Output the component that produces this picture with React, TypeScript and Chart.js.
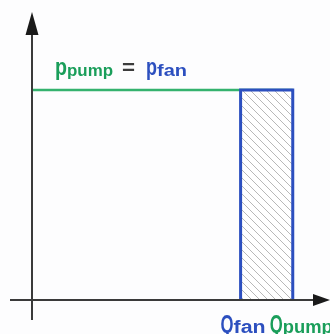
import React, { useEffect, useRef } from "react";
import { Chart, registerables } from "chart.js";

Chart.register(...registerables);

// Values (normalised units)
const pressureLabel = ["p", "pump", "=", "p", "fan"];
const flowLabels = ["Q", "fan", "Q", "pump"];
const pressure = [0.7]; // common operating pressure p_pump = p_fan
const flows = [0.7, 0.875]; // Q_fan, Q_pump
const axisRange = [0, 1];

const GREEN_TEXT = "#1a9e5a";
const GREEN_LINE = "#34b26e";
const BLUE = "#2c4fbf";
const AXIS = "#3a3a3a";

function makeHatch(): CanvasPattern | string {
  const c = document.createElement("canvas");
  const s = 8;
  c.width = s;
  c.height = s;
  const g = c.getContext("2d");
  if (!g) return "#ddd";
  g.fillStyle = "#ffffff";
  g.fillRect(0, 0, s, s);
  g.strokeStyle = "#b8b8b8";
  g.lineWidth = 1;
  g.beginPath();
  g.moveTo(0, 0);
  g.lineTo(s, s);
  g.moveTo(-1, s - 1);
  g.lineTo(1, s + 1);
  g.moveTo(s - 1, -1);
  g.lineTo(s + 1, 1);
  g.stroke();
  const p = g.createPattern(c, "repeat");
  return p || "#ddd";
}

function drawFit(
  ctx: CanvasRenderingContext2D,
  text: string,
  x: number,
  baseline: number,
  width: number,
  font: string,
  color: string
) {
  ctx.save();
  ctx.font = font;
  ctx.fillStyle = color;
  ctx.textBaseline = "alphabetic";
  ctx.textAlign = "left";
  const w = ctx.measureText(text).width || 1;
  ctx.translate(x, baseline);
  ctx.scale(width / w, 1);
  ctx.fillText(text, 0, 0);
  ctx.restore();
}

const axesPlugin = {
  id: "arrowAxes",
  afterDatasetsDraw(chart: any) {
    const ctx: CanvasRenderingContext2D = chart.ctx;
    const xs = chart.scales.x;
    const ys = chart.scales.y;
    const x0 = xs.getPixelForValue(axisRange[0]);
    const y0 = ys.getPixelForValue(axisRange[0]);
    const xEnd = xs.getPixelForValue(axisRange[1]);
    const yEnd = ys.getPixelForValue(axisRange[1]);
    ctx.save();
    ctx.strokeStyle = AXIS;
    ctx.lineWidth = 2;
    ctx.beginPath();
    ctx.moveTo(x0 - 22, y0);
    ctx.lineTo(xEnd - 15, y0);
    ctx.moveTo(x0, y0 + 20);
    ctx.lineTo(x0, yEnd + 30);
    ctx.stroke();
    ctx.fillStyle = "#1a1a1a";
    ctx.beginPath();
    ctx.moveTo(xEnd, y0);
    ctx.lineTo(xEnd - 17, y0 - 6);
    ctx.lineTo(xEnd - 17, y0 + 6);
    ctx.closePath();
    ctx.fill();
    ctx.beginPath();
    ctx.moveTo(x0, yEnd + 12);
    ctx.lineTo(x0 - 6.5, yEnd + 35);
    ctx.lineTo(x0 + 6.5, yEnd + 35);
    ctx.closePath();
    ctx.fill();
    ctx.restore();
  },
  afterDraw(chart: any) {
    const ctx: CanvasRenderingContext2D = chart.ctx;
    const xs = chart.scales.x;
    const ys = chart.scales.y;
    const x0 = xs.getPixelForValue(axisRange[0]);
    const y0 = ys.getPixelForValue(axisRange[0]);
    const py = ys.getPixelForValue(pressure[0]);
    const big = "bold 23px 'Liberation Sans', Arial, sans-serif";
    const sub = "bold 16px 'Liberation Sans', Arial, sans-serif";
    const bl = py - 15;
    drawFit(ctx, pressureLabel[0], x0 + 23, bl, 12, big, GREEN_TEXT);
    drawFit(ctx, pressureLabel[1], x0 + 35, bl + 1, 46, sub, GREEN_TEXT);
    drawFit(ctx, pressureLabel[2], x0 + 90, bl - 1, 13, "bold 20px 'Liberation Sans', Arial, sans-serif", "#3c3c3c");
    drawFit(ctx, pressureLabel[3], x0 + 114, bl, 11, big, BLUE);
    drawFit(ctx, pressureLabel[4], x0 + 125, bl + 1, 30, sub, BLUE);

    const qf = xs.getPixelForValue(flows[0]);
    const qp = xs.getPixelForValue(flows[1]);
    const qb = y0 + 33;
    const bigQ = "bold 25px 'Liberation Sans', Arial, sans-serif";
    const subQ = "bold 18px 'Liberation Sans', Arial, sans-serif";
    drawFit(ctx, flowLabels[0], qf - 20, qb, 13, bigQ, BLUE);
    drawFit(ctx, flowLabels[1], qf - 7, qb, 32, subQ, BLUE);
    drawFit(ctx, flowLabels[2], qp - 23, qb, 13, bigQ, GREEN_TEXT);
    drawFit(ctx, flowLabels[3], qp - 10, qb, 50, subQ, GREEN_TEXT);
  },
};

export default function App() {
  const ref = useRef<HTMLCanvasElement | null>(null);
  useEffect(() => {
    if (!ref.current) return;
    const hatch = makeHatch();
    const p = pressure[0];
    const chart = new Chart(ref.current, {
      type: "line",
      data: {
        datasets: [
          {
            label: "Q range",
            data: [
              { x: flows[0], y: axisRange[0] },
              { x: flows[0], y: p },
              { x: flows[1], y: p },
              { x: flows[1], y: axisRange[0] },
            ],
            borderColor: BLUE,
            borderWidth: 3,
            backgroundColor: hatch as any,
            fill: "origin",
            pointRadius: 0,
            tension: 0,
            order: 0,
            clip: false as any,
          },
          {
            label: "p",
            data: [
              { x: axisRange[0], y: p },
              { x: flows[1], y: p },
            ],
            borderColor: GREEN_LINE,
            borderWidth: 2.5,
            pointRadius: 0,
            fill: false,
            order: 1,
            clip: false as any,
          },
        ],
      },
      options: {
        animation: false,
        responsive: false,
        events: [],
        layout: { padding: { left: 32, right: 0, top: 0, bottom: 34 } },
        plugins: { legend: { display: false }, tooltip: { enabled: false } },
        scales: {
          x: { type: "linear", min: axisRange[0], max: axisRange[1], display: false },
          y: { type: "linear", min: axisRange[0], max: axisRange[1], display: false },
        },
      },
      plugins: [axesPlugin],
    });
    return () => chart.destroy();
  }, []);
  return (
    <div
      style={{
        position: "absolute",
        left: 0,
        top: 0,
        width: 330,
        height: 334,
        background: "#fdfdfe",
        overflow: "hidden",
      }}
    >
      <canvas ref={ref} width={330} height={334} style={{ display: "block" }} />
    </div>
  );
}
